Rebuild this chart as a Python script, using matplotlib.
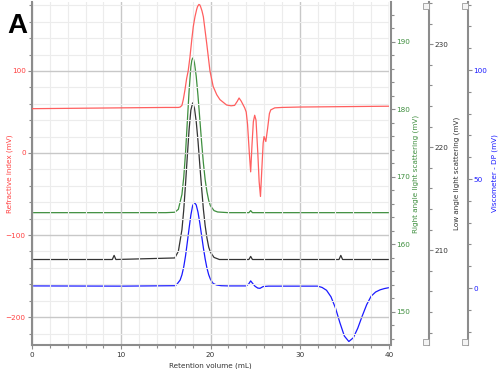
import matplotlib
matplotlib.use("Agg")
import matplotlib.pyplot as plt
from matplotlib.ticker import MultipleLocator
from matplotlib.patches import Rectangle

# ---------------- data ----------------
ri_x = [0, 5, 10, 15, 16.4, 16.6, 16.8, 16.95, 17.14, 17.33, 17.5, 17.7, 17.9, 18.07, 18.26,
        18.45, 18.55, 18.7, 18.8, 18.9, 19.05, 19.2, 19.57, 19.94, 20.3, 20.7, 21.06, 21.8, 22.3,
        22.7, 23.0, 23.2, 23.45, 23.83, 24.0, 24.15, 24.35, 24.5, 24.65, 24.8, 24.95, 25.1,
        25.3, 25.45, 25.6, 25.75, 25.9, 26.0, 26.2, 26.4, 26.6, 26.75, 27.2, 28, 30, 35, 40]
ri_y = [54, 54.5, 55, 55.5, 55.5, 56, 58, 65, 77, 91, 100, 117, 138, 154, 166,
        175, 178.5, 181, 180.5, 178, 173, 166, 134, 100, 81, 71, 65, 58.5, 57.5,
        58, 63, 67, 63, 55, 50, 35, 0, -23, 10, 38, 46, 40,
        0, -35, -53, -20, 12, 20, 14, 30, 48, 52.5, 55, 55.5, 56, 56.5, 57]

rals_x = [0, 10, 15, 16.0, 16.4, 16.8, 17.0, 17.2, 17.4, 17.6, 17.8, 17.9, 18.0, 18.1, 18.2,
          18.4, 18.6, 18.8, 19.0, 19.2, 19.4, 19.6, 19.8, 20.0, 20.4, 20.8, 22, 24.3, 24.5,
          24.7, 30, 40]
rals_y = [164.7, 164.7, 164.7, 164.76, 165.2, 167.4, 169.9, 173.5, 178.1, 182.7, 186.3, 187.2,
          187.6, 187.4, 186.9, 184.9, 182.0, 178.6, 175.2, 172.1, 169.6, 167.8, 166.5, 165.7,
          165.0, 164.8, 164.7, 164.7, 165.0, 164.7, 164.7, 164.7]

lals_x = [0, 9.0, 9.2, 9.4, 16.0, 16.4, 16.8, 17.0, 17.2, 17.4, 17.6, 17.8, 18.0, 18.2, 18.4,
          18.6, 18.8, 19.0, 19.2, 19.4, 19.6, 19.8, 20.0, 20.4, 21, 24.3, 24.5, 24.7, 34.4,
          34.6, 34.8, 40]
lals_y = [209.1, 209.1, 209.5, 209.1, 209.25, 209.9, 212.0, 213.9, 216.4, 219.1, 221.7, 223.6,
          224.3, 223.8, 222.5, 220.6, 218.3, 216.1, 214.0, 212.4, 211.2, 210.3, 209.8, 209.3,
          209.1, 209.1, 209.4, 209.1, 209.1, 209.5, 209.1, 209.1]

visc_x = [0, 10, 16.0, 16.2, 16.6, 16.8, 17.0, 17.2, 17.4, 17.6, 17.8, 18.0, 18.2, 18.4, 18.6,
          18.8, 19.0, 19.2, 19.4, 19.6, 19.8, 20.0, 20.3, 20.7, 21.2, 22, 24.0, 24.3, 24.5,
          24.75, 25.0, 25.3, 25.55, 25.9, 26.5, 32.0, 32.5, 33.0, 33.5, 34.0, 34.5, 35.0,
          35.5, 36.0, 36.5, 37.0, 37.5, 38.0, 38.5, 39.0, 39.5, 40]
visc_y = [1.0, 0.9, 1.1, 1.55, 3.7, 6.1, 9.7, 14.7, 20.9, 27.4, 33.5, 37.8, 39.3, 38.1, 34.8,
          29.9, 24.2, 18.5, 13.4, 9.2, 6.1, 4.0, 2.1, 1.4, 1.1, 1.0, 1.0, 2.0, 3.3,
          2.0, 0.8, 0.0, -0.1, 0.7, 0.9, 0.9, 0.3, -1.0, -4.0, -9.1, -15.9, -22.0,
          -24.5, -22.8, -18.4, -12.8, -7.6, -3.7, -1.8, -0.8, -0.2, 0.2]

x_label = "Retention volume (mL)"
ri_label = "Refractive index (mV)"
rals_label = "Right angle light scattering (mV)"
lals_label = "Low angle light scattering (mV)"
visc_label = "Viscometer - DP (mV)"

RED = "#ff5f5f"
RED_T = "#ff4040"
GREEN = "#3f8f3f"
BLACK = "#333333"
BLUE = "#1a1aff"
SPINE = "#8c8c8c"

plt.rcParams['font.family'] = ['DejaVu Sans']
fs = 5.2

fig = plt.figure(figsize=(5.0, 3.69), dpi=100)
ax = fig.add_axes([32/500, 24/369, 357/500, 343/369])

ax.set_xlim(0, 40)
ax.set_ylim(-234, 184)
ax.xaxis.set_major_locator(MultipleLocator(10))
ax.xaxis.set_minor_locator(MultipleLocator(2))
ax.yaxis.set_major_locator(MultipleLocator(100))
ax.yaxis.set_minor_locator(MultipleLocator(20))
ax.grid(which='minor', color='#ececec', lw=0.8)
ax.grid(which='major', color='#c8c8c8', lw=1.0)
ax.set_axisbelow(True)
for s in ['top', 'right']:
    ax.spines[s].set_visible(False)
for s in ['left', 'bottom']:
    ax.spines[s].set_color(SPINE)
    ax.spines[s].set_linewidth(1.5)
ax.tick_params(axis='both', which='both', color=SPINE, labelsize=fs)
ax.tick_params(axis='y', which='major', length=3, width=0.8, labelcolor=RED_T, pad=1.5)
ax.tick_params(axis='y', which='minor', length=2, width=0.8)
ax.tick_params(axis='x', which='major', length=3, width=0.8, labelcolor='#333333', pad=2)
ax.tick_params(axis='x', which='minor', length=2, width=0.8)
ax.set_xlabel(x_label, fontsize=fs, color='#333333')
ax.xaxis.set_label_coords(0.5, -0.052)
ax.set_ylabel(ri_label, fontsize=fs, color=RED_T)
ax.yaxis.set_label_coords(-0.052, 0.5)

def side_axis(pos, ylim, major, minor, color, label, labx):
    a = ax.twinx()
    a.set_ylim(*ylim)
    a.spines['right'].set_position(('axes', pos))
    for s in ['top', 'left', 'bottom']:
        a.spines[s].set_visible(False)
    a.spines['right'].set_color(SPINE)
    a.spines['right'].set_linewidth(1.5)
    a.yaxis.set_major_locator(MultipleLocator(major))
    a.yaxis.set_minor_locator(MultipleLocator(minor))
    a.tick_params(axis='y', which='major', length=3, width=0.8, color=SPINE,
                  labelcolor=color, labelsize=fs, pad=1)
    a.tick_params(axis='y', which='minor', length=2, width=0.8, color=SPINE)
    a.set_ylabel(label, fontsize=fs, color=color, rotation=90)
    a.yaxis.set_label_coords(labx, 0.5)
    return a

ax_g = side_axis(1.0056, (145.1, 195.9), 10, 2, GREEN, rals_label, 1.067)
ax_k = side_axis(1.112, (200.8, 234.1), 10, 2, BLACK, lals_label, 1.182)
ax_b = side_axis(1.221, (-26.1, 131.2), 50, 10, BLUE, visc_label, 1.287)

ax_b.plot(visc_x, visc_y, color=BLUE, lw=0.9)
ax_k.plot(lals_x, lals_y, color=BLACK, lw=0.9)
ax_g.plot(rals_x, rals_y, color=GREEN, lw=0.9)
ax.plot(ri_x, ri_y, color=RED, lw=0.9, zorder=5)
ax.set_zorder(ax_b.get_zorder() + 1)
ax.patch.set_visible(False)

# small grey box icons at ends of the outer axes
for px in (423, 462):
    for py in (3, 339):
        fig.patches.append(Rectangle((px/500, 1 - (py + 6)/369), 6/500, 6/369,
                                     transform=fig.transFigure, facecolor='#f4f4f4',
                                     edgecolor='#9a9a9a', lw=0.6))

fig.text(7/500, 1 - 33/369, "A", fontsize=20, fontweight='bold',
         family='Liberation Sans', color='black')

fig.savefig("out.png", dpi=100)
